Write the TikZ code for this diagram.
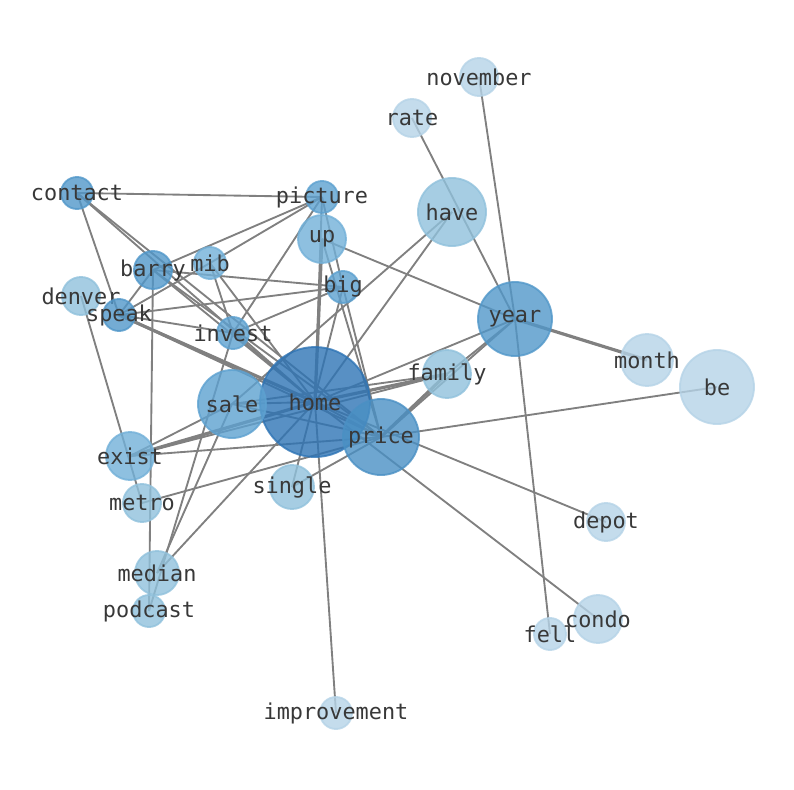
\documentclass[tikz,border=0pt]{standalone}
\usepackage{fontspec}
\setmonofont{DejaVu Sans Mono}
\usetikzlibrary{shapes,arrows,calc,positioning,backgrounds}

\definecolor{tone1}{RGB}{46,116,181}
\definecolor{tone2}{RGB}{74,144,196}
\definecolor{tone3}{RGB}{81,151,201}
\definecolor{tone4}{RGB}{93,161,208}
\definecolor{tone5}{RGB}{114,176,216}
\definecolor{tone6}{RGB}{144,193,220}
\definecolor{tone7}{RGB}{181,211,231}

\begin{document}
\begin{tikzpicture}[
    x=0.75pt,y=-0.75pt,
    word/.style={circle,inner sep=0pt,minimum size=#1*1.5pt,
      fill opacity=0.8,draw opacity=0.8,line width=1.4pt},
    every label/.style={text opacity=1,text=black!78,
      font=\ttfamily\fontsize{16.4}{18}\selectfont},
    link/.style={draw=black!50,line width=1.4pt},
    heavy/.style={draw=black!50,line width=2.4pt}]
    \useasboundingbox (0,0) rectangle (794,790);

    % words, largest first
    \node[word=55,fill=tone1,draw=tone1,label=center:home] (home) at (315,402) {};
    \node[word=34,fill=tone4,draw=tone4,label=center:sale] (sale) at (232,404) {};
    \node[word=38,fill=tone2,draw=tone2,label=center:price] (price) at (381,437) {};
    \node[word=37,fill=tone3,draw=tone3,label=center:year] (year) at (515,319) {};
    \node[word=37,fill=tone7,draw=tone7,label=center:be] (be) at (717,387) {};
    \node[word=34,fill=tone6,draw=tone6,label=center:have] (have) at (452,212) {};
    \node[word=26,fill=tone7,draw=tone7,label=center:month] (month) at (647,360) {};
    \node[word=24,fill=tone6,draw=tone6,label=center:family] (family) at (447,374) {};
    \node[word=24,fill=tone5,draw=tone5,label=center:up] (up) at (322,239) {};
    \node[word=24,fill=tone5,draw=tone5,label=center:exist] (exist) at (130,456) {};
    \node[word=22,fill=tone6,draw=tone6,label=center:single] (single) at (292,487) {};
    \node[word=22,fill=tone6,draw=tone6,label=center:median] (median) at (157,573) {};
    \node[word=24,fill=tone7,draw=tone7,label=center:condo] (condo) at (598,619) {};
    \node[word=19,fill=tone6,draw=tone6,label=center:metro] (metro) at (142,503) {};
    \node[word=19,fill=tone6,draw=tone6,label=center:denver] (denver) at (81,296) {};
    \node[word=19,fill=tone7,draw=tone7,label=center:rate] (rate) at (412,118) {};
    \node[word=19,fill=tone7,draw=tone7,label=center:november] (november) at (479,77) {};
    \node[word=19,fill=tone7,draw=tone7,label=center:depot] (depot) at (606,522) {};
    \node[word=16,fill=tone6,draw=tone6,label=center:podcast] (podcast) at (149,611) {};
    \node[word=16,fill=tone7,draw=tone7,label=center:improvement] (improvement) at (336,713) {};
    \node[word=16,fill=tone3,draw=tone3,label=center:contact] (contact) at (77,193) {};
    \node[word=16,fill=tone4,draw=tone4,label=center:picture] (picture) at (322,197) {};
    \node[word=16,fill=tone5,draw=tone5,label=center:mib] (mib) at (210,263) {};
    \node[word=19,fill=tone3,draw=tone3,label=center:barry] (barry) at (153,270) {};
    \node[word=16,fill=tone4,draw=tone4,label=center:big] (big) at (343,287) {};
    \node[word=16,fill=tone3,draw=tone3,label=center:speak] (speak) at (119,315) {};
    \node[word=16,fill=tone4,draw=tone4,label=center:invest] (invest) at (233,333) {};
    \node[word=16,fill=tone7,draw=tone7,label=center:fell] (fell) at (550,634) {};

    % co-occurrence links
    \begin{scope}[on background layer]
    \draw[link] (contact.center) -- (picture.center);
    \draw[link] (contact.center) -- (speak.center);
    \draw[link] (contact.center) -- (home.center);
    \draw[link] (contact.center) -- (price.center);
    \draw[link] (barry.center) -- (picture.center);
    \draw[link] (barry.center) -- (big.center);
    \draw[link] (barry.center) -- (speak.center);
    \draw[link] (barry.center) -- (podcast.center);
    \draw[link] (barry.center) -- (home.center);
    \draw[link] (barry.center) -- (price.center);
    \draw[link] (mib.center) -- (picture.center);
    \draw[link] (mib.center) -- (speak.center);
    \draw[link] (mib.center) -- (invest.center);
    \draw[link] (mib.center) -- (home.center);
    \draw[link] (picture.center) -- (invest.center);
    \draw[link] (picture.center) -- (home.center);
    \draw[link] (picture.center) -- (big.center);
    \draw[heavy] (up.center) -- (home.center);
    \draw[link] (up.center) -- (year.center);
    \draw[link] (up.center) -- (price.center);
    \draw[link] (big.center) -- (speak.center);
    \draw[link] (big.center) -- (invest.center);
    \draw[link] (big.center) -- (single.center);
    \draw[link] (big.center) -- (price.center);
    \draw[link] (denver.center) -- (metro.center);
    \draw[link] (speak.center) -- (invest.center);
    \draw[heavy] (speak.center) -- (home.center);
    \draw[link] (speak.center) -- (price.center);
    \draw[link] (invest.center) -- (home.center);
    \draw[link] (invest.center) -- (podcast.center);
    \draw[link] (sale.center) -- (median.center);
    \draw[link] (home.center) -- (median.center);
    \draw[link] (exist.center) -- (sale.center);
    \draw[heavy] (exist.center) -- (home.center);
    \draw[link] (exist.center) -- (family.center);
    \draw[link] (exist.center) -- (price.center);
    \draw[link] (metro.center) -- (price.center);
    \draw[link] (have.center) -- (sale.center);
    \draw[link] (have.center) -- (home.center);
    \draw[link] (rate.center) -- (year.center);
    \draw[link] (november.center) -- (year.center);
    \draw[link] (year.center) -- (fell.center);
    \draw[heavy] (year.center) -- (month.center);
    \draw[link] (year.center) -- (family.center);
    \draw[link] (year.center) -- (price.center);
    \draw[link] (year.center) -- (home.center);
    \draw[link] (be.center) -- (price.center);
    \draw[link] (home.center) -- (depot.center);
    \draw[link] (home.center) -- (condo.center);
    \draw[link] (home.center) -- (improvement.center);
    \draw[link] (single.center) -- (price.center);
    \draw[heavy] (family.center) -- (home.center);
    \draw[heavy] (family.center) -- (price.center);
    \draw[link] (sale.center) -- (family.center);
    \draw[link] (home.center) -- (price.center);
    \draw[link] (home.center) -- (sale.center);
    \draw[link] (sale.center) -- (price.center);
    \end{scope}
  \end{tikzpicture}
\end{document}
